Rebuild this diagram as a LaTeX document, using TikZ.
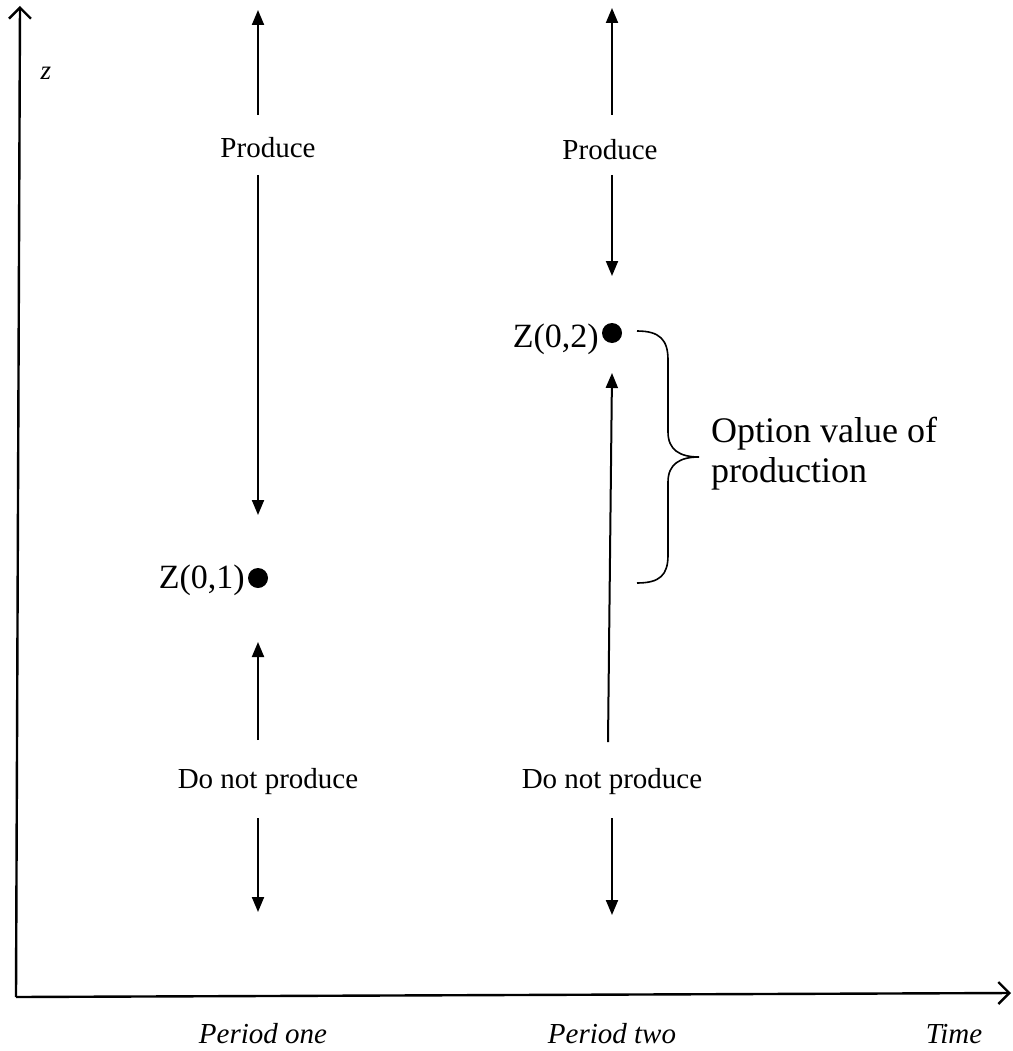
\documentclass[tikz,border=0pt]{standalone}
\usepackage{fontspec}
\setmainfont{Liberation Serif}
\usetikzlibrary{arrows.meta}
\tikzset{
  axisline/.style={line width=2.4pt,-{Straight Barb[length=11pt,width=22pt,line width=2.4pt]}},
  moveline/.style={line width=2pt,-{Triangle[length=15pt,width=12pt]}},
  lbl/.style={inner sep=0pt,anchor=base,font=\fontsize{29}{34}\selectfont},
  ilbl/.style={inner sep=0pt,anchor=base,font=\fontsize{29}{34}\selectfont\itshape},
  zlbl/.style={inner sep=0pt,anchor=base east,font=\fontsize{34}{40}\selectfont},
  optlbl/.style={inner sep=0pt,anchor=base west,align=left,font=\fontsize{36}{40}\selectfont},
  zdot/.style={circle,fill=black,inner sep=0pt,minimum size=20pt}
}
\begin{document}
\begin{tikzpicture}[x=1pt,y=-1pt]
\useasboundingbox (0,0) rectangle (1012,1051);
% axes
\coordinate (origin) at (16,997);
\coordinate (ytop) at (20,6);
\coordinate (xend) at (1011,993);
\draw[axisline] (origin) -- (ytop);
\draw[axisline] (origin) -- (xend);
\node[ilbl,font=\fontsize{27}{32}\selectfont\itshape] (zlabel) at (46,80) {z};
% period one
\node[lbl] (prod1) at (268,158) {Produce};
\node[lbl] (noprod1) at (268,788) {Do not produce};
\node[zdot] (dot1) at (258,578) {};
\node[zlbl] (z1) at (245,588) {Z(0,1)};
\coordinate (p1top) at (258,10);
\coordinate (p1a) at (258,115);
\coordinate (p1b) at (258,175);
\coordinate (p1c) at (258,515);
\coordinate (p1d) at (258,740);
\coordinate (p1e) at (258,642);
\coordinate (p1f) at (258,818);
\coordinate (p1g) at (258,912);
\draw[moveline] (p1a) -- (p1top);
\draw[moveline] (p1b) -- (p1c);
\draw[moveline] (p1d) -- (p1e);
\draw[moveline] (p1f) -- (p1g);
% period two
\node[lbl] (prod2) at (610,160) {Produce};
\node[lbl] (noprod2) at (612,788) {Do not produce};
\node[zdot] (dot2) at (612,333) {};
\node[zlbl] (z2) at (599,347) {Z(0,2)};
\coordinate (p2top) at (612,8);
\coordinate (p2a) at (612,115);
\coordinate (p2b) at (612,175);
\coordinate (p2c) at (612,276);
\coordinate (p2d) at (608,742);
\coordinate (p2e) at (612,373);
\coordinate (p2f) at (612,818);
\coordinate (p2g) at (612,915);
\draw[moveline] (p2a) -- (p2top);
\draw[moveline] (p2b) -- (p2c);
\draw[moveline] (p2d) -- (p2e);
\draw[moveline] (p2f) -- (p2g);
% brace
\coordinate (btop) at (637,331);
\coordinate (btip) at (699,457);
\coordinate (bbot) at (637,583);
\draw[line width=1.6pt] (btop) .. controls (660,331) and (668,340) .. (668,360)
  -- (668,432) .. controls (668,450) and (680,457) .. (btip)
  .. controls (680,457) and (668,464) .. (668,482)
  -- (668,555) .. controls (668,575) and (660,583) .. (bbot);
\node[optlbl] (opt) at (711,482) {Option value of\\production};
% time labels
\node[ilbl] (per1) at (263,1043) {Period one};
\node[ilbl] (per2) at (612,1043) {Period two};
\node[ilbl] (time) at (954,1043) {Time};
\end{tikzpicture}
\end{document}
